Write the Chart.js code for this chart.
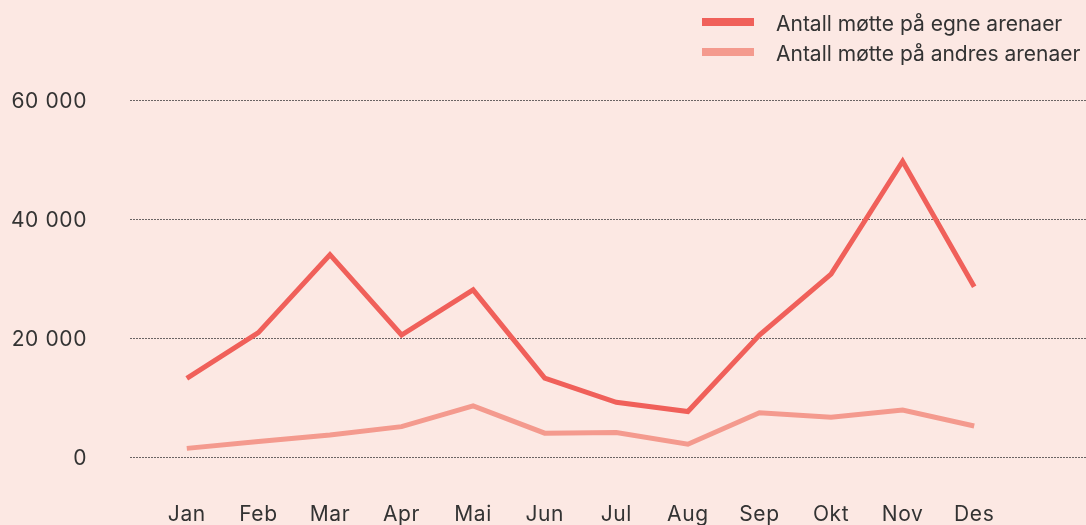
<!DOCTYPE html>
<html>
<head>
<meta charset="utf-8">
<script src="https://cdn.jsdelivr.net/npm/chart.js@4.4.1/dist/chart.umd.min.js"></script>
<style>
  html, body { margin: 0; padding: 0; background: #FCE8E3; }
  #wrap { width: 1086px; height: 525px; position: relative; }
</style>
</head>
<body>
<div id="wrap"><canvas id="c" width="1086" height="525"></canvas></div>
<script>
const months = ['Jan', 'Feb', 'Mar', 'Apr', 'Mai', 'Jun', 'Jul', 'Aug', 'Sep', 'Okt', 'Nov', 'Des'];
const seriesNames = ['Antall møtte på egne arenaer', 'Antall møtte på andres arenaer'];
const egneArenaer = [13200, 20900, 34000, 20500, 28100, 13250, 9200, 7650, 20500, 30750, 49700, 28600];
const andresArenaer = [1450, 2600, 3700, 5100, 8600, 4000, 4100, 2150, 7450, 6700, 7900, 5200];
const yTicks = [0, 20000, 40000, 60000];

const FONT = 'Inter';
const TEXT = '#333333';
const COLORS = ['#F0605A', '#F49A8E'];

const gridPlugin = {
  id: 'customGrid',
  beforeDraw(chart) {
    chart.ctx.letterSpacing = '0.6px';
  },
  beforeDatasetsDraw(chart) {
    const ctx = chart.ctx;
    const y = chart.scales.y;
    ctx.save();
    ctx.strokeStyle = '#6a6464';
    ctx.lineWidth = 1;
    ctx.setLineDash([2, 1]);
    yTicks.forEach(v => {
      const py = Math.round(y.getPixelForValue(v)) + 0.5;
      ctx.beginPath();
      ctx.moveTo(130, py);
      ctx.lineTo(chart.width, py);
      ctx.stroke();
    });
    ctx.restore();
  }
};

const legendPlugin = {
  id: 'customLegend',
  afterDraw(chart) {
    const ctx = chart.ctx;
    ctx.save();
    ctx.letterSpacing = '0px';
    chart.data.datasets.forEach((ds, i) => {
      const cy = 22 + i * 30;
      ctx.fillStyle = ds.borderColor;
      ctx.fillRect(702, cy - 4, 52, 8);
      ctx.fillStyle = TEXT;
      ctx.font = '21px ' + FONT;
      ctx.textBaseline = 'middle';
      ctx.textAlign = 'left';
      ctx.fillText(ds.label, 776, cy + 3);
    });
    ctx.restore();
  }
};

new Chart(document.getElementById('c'), {
  type: 'line',
  data: {
    labels: months,
    datasets: [
      { label: seriesNames[0], data: egneArenaer, borderColor: COLORS[0], backgroundColor: COLORS[0], borderWidth: 5, pointRadius: 0, tension: 0, borderJoinStyle: 'miter' },
      { label: seriesNames[1], data: andresArenaer, borderColor: COLORS[1], backgroundColor: COLORS[1], borderWidth: 5, pointRadius: 0, tension: 0, borderJoinStyle: 'miter' }
    ]
  },
  options: {
    responsive: false,
    animation: false,
    layout: { padding: { left: 10, right: 76, top: 100, bottom: 0 } },
    plugins: { legend: { display: false }, tooltip: { enabled: false } },
    scales: {
      x: {
        offset: true,
        grid: { display: false, drawTicks: false },
        border: { display: false },
        ticks: { color: TEXT, font: { family: FONT, size: 21 }, padding: 45, maxRotation: 0, autoSkip: false },
        afterFit(s) { s.height = 68; s.paddingLeft = 0; s.paddingRight = 0; }
      },
      y: {
        min: 0, max: 60000,
        grid: { display: false, drawTicks: false },
        border: { display: false },
        afterBuildTicks(s) { s.ticks = yTicks.map(v => ({ value: v })); },
        ticks: {
          color: TEXT, font: { family: FONT, size: 21 }, padding: 64, labelOffset: 2,
          callback: v => String(v).replace(/\B(?=(\d{3})+(?!\d))/g, ' ')
        },
        afterFit(s) { s.width = 141; s.paddingTop = 0; s.paddingBottom = 0; }
      }
    }
  },
  plugins: [gridPlugin, legendPlugin]
});
</script>
</body>
</html>
